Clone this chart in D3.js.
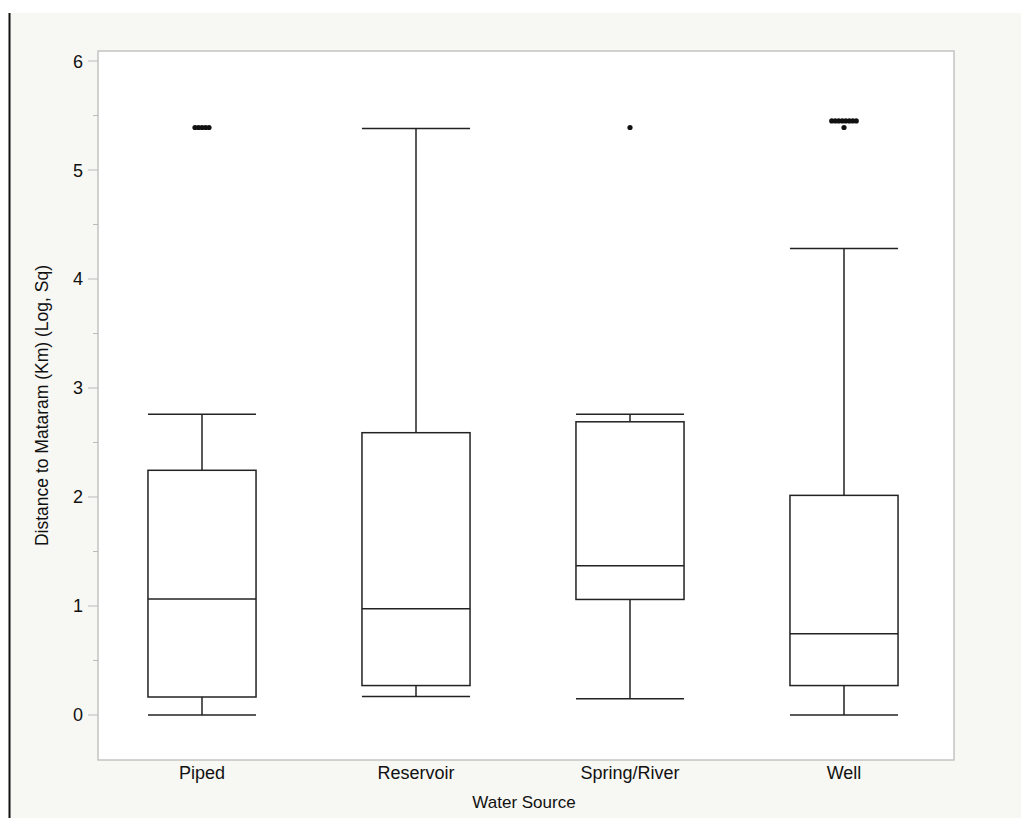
<!DOCTYPE html>
<html>
<head>
<meta charset="utf-8">
<script src="https://cdn.jsdelivr.net/npm/d3@7"></script>
<style>
  body { margin: 0; background: #fff; }
  text { font-family: "Liberation Sans", Arial, sans-serif; fill: #111; }
</style>
</head>
<body>
<svg width="1021" height="818"></svg>
<script>
// data
const sources = ["Piped", "Reservoir", "Spring/River", "Well"];
const whiskerLow = [0.0, 0.17, 0.15, 0.0];
const q1 = [0.165, 0.27, 1.06, 0.27];
const median = [1.065, 0.975, 1.37, 0.745];
const q3 = [2.245, 2.59, 2.69, 2.015];
const whiskerHigh = [2.76, 5.38, 2.76, 4.28];
const outliers = [
  [5.39, 5.39, 5.39, 5.39, 5.39],
  [],
  [5.39],
  [5.45, 5.45, 5.45, 5.45, 5.45, 5.45, 5.45, 5.45, 5.39]
];
const yTicks = [0, 1, 2, 3, 4, 5, 6];
const yMinorTicks = [0.5, 1.5, 2.5, 3.5, 4.5, 5.5];

const svg = d3.select("svg");
const margin = {top: 51, right: 67, bottom: 58, left: 98};
const width = 1021 - margin.left - margin.right,
      height = 818 - margin.top - margin.bottom;

// page background + left rule
svg.append("rect").attr("x", 10).attr("y", 13).attr("width", 1011).attr("height", 805).attr("fill", "#f7f7f3");
svg.append("line").attr("x1", 9.5).attr("x2", 9.5).attr("y1", 13).attr("y2", 818)
  .attr("stroke", "#111").attr("stroke-width", 2);

const g = svg.append("g").attr("transform", `translate(${margin.left},${margin.top})`);

const x = d3.scaleBand().domain(sources).range([-3, width - 3]);
const y = d3.scaleLinear().domain([-0.413, 6.092]).range([height, 0]);
const boxW = x.bandwidth() * 0.505;

g.append("rect").attr("width", width).attr("height", height)
  .attr("fill", "#fff").attr("stroke", "#c4c4c4").attr("stroke-width", 1.5);

// y axis ticks
const yAxis = g.append("g");
yAxis.selectAll(".major").data(yTicks).join("line")
  .attr("x1", -10).attr("x2", 0)
  .attr("y1", d => y(d)).attr("y2", d => y(d))
  .attr("stroke", "#bbb");
yAxis.selectAll(".minor").data(yMinorTicks).join("line")
  .attr("x1", -5).attr("x2", 0)
  .attr("y1", d => y(d)).attr("y2", d => y(d))
  .attr("stroke", "#bbb");
yAxis.selectAll("text").data(yTicks).join("text")
  .attr("x", -15).attr("y", d => y(d)).attr("dy", "0.36em")
  .attr("text-anchor", "end").style("font-size", "18px")
  .text(d => d);

// x labels
g.selectAll(".xlab").data(sources).join("text")
  .attr("x", d => x(d) + x.bandwidth() / 2).attr("y", height + 19)
  .attr("text-anchor", "middle").style("font-size", "18px")
  .text(d => d);

g.append("text")
  .attr("x", width / 2 - 2).attr("y", height + 48)
  .attr("text-anchor", "middle").style("font-size", "17px")
  .text("Water Source");

g.append("text")
  .attr("transform", `translate(-56,${height / 2}) rotate(-90)`)
  .attr("dy", "0.35em")
  .attr("text-anchor", "middle").style("font-size", "17.5px")
  .text("Distance to Mataram (Km) (Log, Sq)");

// boxes
const stroke = "#222";
const boxes = g.selectAll(".box").data(sources).join("g")
  .attr("transform", d => `translate(${x(d) + x.bandwidth() / 2},0)`);

boxes.append("line")
  .attr("y1", (d, i) => y(whiskerLow[i])).attr("y2", (d, i) => y(q1[i]))
  .attr("stroke", stroke).attr("stroke-width", 1.5);
boxes.append("line")
  .attr("y1", (d, i) => y(q3[i])).attr("y2", (d, i) => y(whiskerHigh[i]))
  .attr("stroke", stroke).attr("stroke-width", 1.5);
boxes.append("line")
  .attr("x1", -boxW / 2).attr("x2", boxW / 2)
  .attr("y1", (d, i) => y(whiskerLow[i])).attr("y2", (d, i) => y(whiskerLow[i]))
  .attr("stroke", stroke).attr("stroke-width", 1.5);
boxes.append("line")
  .attr("x1", -boxW / 2).attr("x2", boxW / 2)
  .attr("y1", (d, i) => y(whiskerHigh[i])).attr("y2", (d, i) => y(whiskerHigh[i]))
  .attr("stroke", stroke).attr("stroke-width", 1.5);
boxes.append("rect")
  .attr("x", -boxW / 2).attr("width", boxW)
  .attr("y", (d, i) => y(q3[i])).attr("height", (d, i) => y(q1[i]) - y(q3[i]))
  .attr("fill", "none").attr("stroke", stroke).attr("stroke-width", 1.5);
boxes.append("line")
  .attr("x1", -boxW / 2).attr("x2", boxW / 2)
  .attr("y1", (d, i) => y(median[i])).attr("y2", (d, i) => y(median[i]))
  .attr("stroke", stroke).attr("stroke-width", 1.5);

// outliers, jittered side by side when values repeat
boxes.each(function(d, i) {
  const groups = d3.groups(outliers[i], v => v);
  groups.forEach(([v, pts]) => {
    const n = pts.length;
    d3.select(this).selectAll(null).data(pts).join("circle")
      .attr("cx", (p, j) => (j - (n - 1) / 2) * 3.5)
      .attr("cy", y(v))
      .attr("r", 2.6)
      .attr("fill", "#111");
  });
});
</script>
</body>
</html>
